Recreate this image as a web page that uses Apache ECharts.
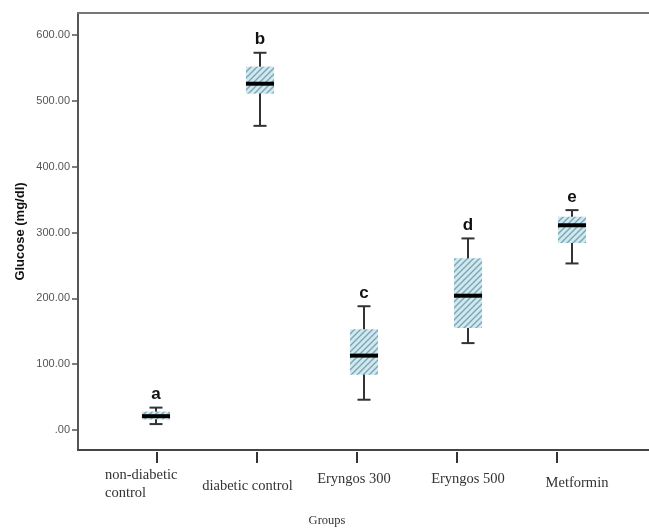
<!DOCTYPE html>
<html>
<head>
<meta charset="utf-8">
<script src="https://cdn.jsdelivr.net/npm/echarts@6/dist/echarts.min.js"></script>
<style>html,body{margin:0;padding:0;background:#fff}#c{width:649px;height:532px}</style>
</head>
<body>
<div id="c"></div>
<script>
// ---- data ----
const groups = ['non-diabetic control', 'diabetic control', 'Eryngos 300', 'Eryngos 500', 'Metformin'];
const lowWhisker = [9, 462, 46, 132, 253];
const q1 = [16, 511, 84, 155, 284];
const median = [21, 526, 113, 204, 311];
const q3 = [28, 552, 153, 261, 324];
const highWhisker = [34, 573, 188, 291, 334];
const letters = ['a', 'b', 'c', 'd', 'e'];
const yTicks = [0, 100, 200, 300, 400, 500, 600];

// ---- hatch pattern ----
function makeHatch() {
  const s = 6;
  const cv = document.createElement('canvas');
  cv.width = s; cv.height = s;
  const ctx = cv.getContext('2d');
  ctx.fillStyle = '#d3e8ee';
  ctx.fillRect(0, 0, s, s);
  ctx.strokeStyle = '#76a7b7';
  ctx.lineWidth = 1.4;
  ctx.beginPath();
  ctx.moveTo(-1, s + 1); ctx.lineTo(s + 1, -1);
  ctx.moveTo(-1, 1); ctx.lineTo(1, -1);
  ctx.moveTo(s - 1, s + 1); ctx.lineTo(s + 1, s - 1);
  ctx.stroke();
  return cv;
}
const hatch = makeHatch();

const boxData = groups.map((g, i) => [i, lowWhisker[i], q1[i], median[i], q3[i], highWhisker[i]]);

const serif = '"Liberation Serif", "Times New Roman", serif';
const sans = '"Liberation Sans", Arial, sans-serif';

const labelShift = [
  [0, 28, 0, 0],
  [11, 19, 0, 0],
  [4, 6, 0, 0],
  [4, 0, 0, 22],
  [8, 0, 0, 40]
];
const labelItems = groups.map((g, i) => ({ value: g, textStyle: { padding: labelShift[i] } }));

const chart = echarts.init(document.getElementById('c'), null, { renderer: 'canvas' });
chart.setOption({
  animation: false,
  backgroundColor: '#ffffff',
  grid: [
    { left: 104, right: 25, top: 35, bottom: 102 },
    { left: 107, width: 500, top: 13, bottom: 80 },
    { left: 78, right: 0, top: 13, bottom: 80 }
  ],
  xAxis: [
    { gridIndex: 0, type: 'category', data: groups, show: false },
    {
      gridIndex: 1, type: 'category', data: labelItems,
      axisLine: { show: false },
      axisTick: { show: true, alignWithLabel: true, length: 11, lineStyle: { color: '#333', width: 2 } },
      axisLabel: {
        interval: 0, margin: 14, color: '#333', fontFamily: serif, fontSize: 14.5, lineHeight: 18,
        formatter: (v, i) => i === 0 ? '{l|non-diabetic}\n{l|control}' : v,
        rich: { l: { width: 76, align: 'left', fontFamily: serif, fontSize: 14.5, lineHeight: 18, color: '#333' } }
      },
      splitLine: { show: false }
    },
    {
      gridIndex: 2, type: 'value', min: 0, max: 1, position: 'bottom',
      axisLine: { show: true, lineStyle: { color: '#444', width: 2 } },
      axisTick: { show: false }, axisLabel: { show: false }, splitLine: { show: false },
      name: 'Groups', nameLocation: 'middle', nameGap: 64,
      nameTextStyle: { fontFamily: serif, fontSize: 12.5, color: '#333', padding: [0, 73, 0, 0] }
    },
    {
      gridIndex: 2, type: 'value', min: 0, max: 1, position: 'top',
      axisLine: { show: true, lineStyle: { color: '#777', width: 2 } },
      axisTick: { show: false }, axisLabel: { show: false }, splitLine: { show: false }
    }
  ],
  yAxis: [
    {
      gridIndex: 0, type: 'value', min: 0, max: 600, interval: 100, offset: 26,
      axisLine: { show: false },
      axisTick: { show: true, length: 6, lineStyle: { color: '#555', width: 1.5 } },
      axisLabel: {
        margin: 8, color: '#555', fontFamily: sans, fontSize: 11,
        formatter: v => v === 0 ? '.00' : v.toFixed(2)
      },
      splitLine: { show: false }
    },
    { gridIndex: 1, type: 'value', show: false },
    {
      gridIndex: 2, type: 'value', min: 0, max: 1,
      axisLine: { show: true, lineStyle: { color: '#555', width: 2 } },
      axisTick: { show: false }, axisLabel: { show: false }, splitLine: { show: false },
      name: 'Glucose (mg/dl)', nameLocation: 'middle', nameGap: 51,
      nameTextStyle: { fontFamily: sans, fontSize: 13, fontWeight: 'bold', color: '#111' }
    }
  ],
  series: [{
    type: 'custom',
    xAxisIndex: 0, yAxisIndex: 0,
    data: boxData,
    encode: { x: 0, y: [1, 2, 3, 4, 5] },
    clip: false,
    renderItem: function (params, api) {
      const i = api.value(0);
      const pLow = api.coord([i, api.value(1)]);
      const pQ1 = api.coord([i, api.value(2)]);
      const pMed = api.coord([i, api.value(3)]);
      const pQ3 = api.coord([i, api.value(4)]);
      const pHigh = api.coord([i, api.value(5)]);
      const band = api.size([1, 0])[0];
      const bw = band * 0.27;
      const cw = band * 0.125;
      const x = pMed[0];
      const wStyle = { stroke: '#333', lineWidth: 2 };
      return {
        type: 'group',
        children: [
          { type: 'line', shape: { x1: x, y1: pHigh[1], x2: x, y2: pLow[1] }, style: wStyle },
          { type: 'line', shape: { x1: x - cw / 2, y1: pHigh[1], x2: x + cw / 2, y2: pHigh[1] }, style: wStyle },
          { type: 'line', shape: { x1: x - cw / 2, y1: pLow[1], x2: x + cw / 2, y2: pLow[1] }, style: wStyle },
          { type: 'rect', shape: { x: x - bw / 2, y: pQ3[1], width: bw, height: pQ1[1] - pQ3[1] },
            style: { fill: { image: hatch, repeat: 'repeat' }, stroke: null } },
          { type: 'line', shape: { x1: x - bw / 2, y1: pMed[1], x2: x + bw / 2, y2: pMed[1] },
            style: { stroke: '#000', lineWidth: 4 } },
          { type: 'text', x: x, y: pHigh[1] - 13,
            style: { text: letters[params.dataIndex], fontFamily: sans, fontSize: 17, fontWeight: 'bold',
                     fill: '#111', align: 'center', verticalAlign: 'middle' } }
        ]
      };
    }
  }]
});
</script>
</body>
</html>
